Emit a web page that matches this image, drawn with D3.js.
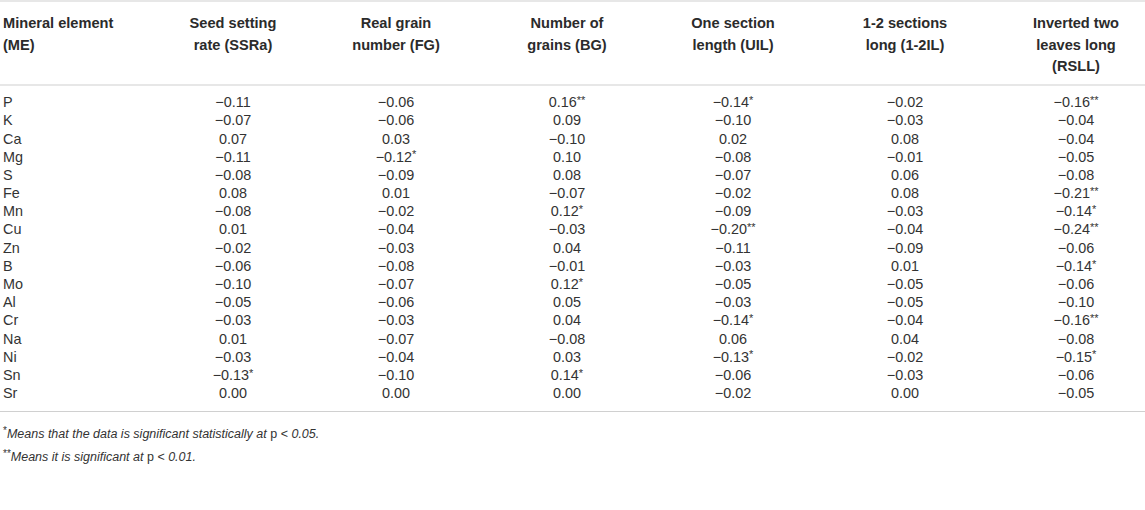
<!DOCTYPE html>
<html><head><meta charset="utf-8">
<script src="https://cdn.jsdelivr.net/npm/d3@7"></script>
<style>
html,body{margin:0;padding:0;background:#fff;}
svg{display:block;}
</style>
</head><body>
<script>
const elements = ["P","K","Ca","Mg","S","Fe","Mn","Cu","Zn","B","Mo","Al","Cr","Na","Ni","Sn","Sr"];
const columnHeaders = [
  ["Mineral element","(ME)"],
  ["Seed setting","rate (SSRa)"],
  ["Real grain","number (FG)"],
  ["Number of","grains (BG)"],
  ["One section","length (UIL)"],
  ["1-2 sections","long (1-2IL)"],
  ["Inverted two","leaves long","(RSLL)"]
];
const ssra  = [-0.11,-0.07,0.07,-0.11,-0.08,0.08,-0.08,0.01,-0.02,-0.06,-0.10,-0.05,-0.03,0.01,-0.03,-0.13,0.00];
const ssraSig = ["","","","","","","","","","","","","","","","*",""];
const fg    = [-0.06,-0.06,0.03,-0.12,-0.09,0.01,-0.02,-0.04,-0.03,-0.08,-0.07,-0.06,-0.03,-0.07,-0.04,-0.10,0.00];
const fgSig = ["","","","*","","","","","","","","","","","","",""];
const bg    = [0.16,0.09,-0.10,0.10,0.08,-0.07,0.12,-0.03,0.04,-0.01,0.12,0.05,0.04,-0.08,0.03,0.14,0.00];
const bgSig = ["**","","","","","","*","","","","*","","","","","*",""];
const uil   = [-0.14,-0.10,0.02,-0.08,-0.07,-0.02,-0.09,-0.20,-0.11,-0.03,-0.05,-0.03,-0.14,0.06,-0.13,-0.06,-0.02];
const uilSig = ["*","","","","","","","**","","","","","*","","*","",""];
const il12  = [-0.02,-0.03,0.08,-0.01,0.06,0.08,-0.03,-0.04,-0.09,0.01,-0.05,-0.05,-0.04,0.04,-0.02,-0.03,0.00];
const il12Sig = ["","","","","","","","","","","","","","","","",""];
const rsll  = [-0.16,-0.04,-0.04,-0.05,-0.08,-0.21,-0.14,-0.24,-0.06,-0.14,-0.06,-0.10,-0.16,-0.08,-0.15,-0.06,-0.05];
const rsllSig = ["**","","","","","**","*","**","","*","","","**","","*","",""];
const footnotes = [
  [{t:"*",sup:true},{t:"Means that the data is significant statistically at ",i:true},{t:"p < ",i:false},{t:"0.05.",i:true}],
  [{t:"**",sup:true},{t:"Means it is significant at ",i:true},{t:"p < ",i:false},{t:"0.01.",i:true}]
];

const series = [
  {v:ssra,s:ssraSig},{v:fg,s:fgSig},{v:bg,s:bgSig},
  {v:uil,s:uilSig},{v:il12,s:il12Sig},{v:rsll,s:rsllSig}
];

const W = 1145, H = 510;
const svg = d3.select("body").append("svg").attr("width",W).attr("height",H)
  .style("font-family","'Liberation Sans', Arial, sans-serif");

const textColor = "#333";
const lineColor = "#d0d0d0";

const colKeys = d3.range(columnHeaders.length);
const x = d3.scaleOrdinal().domain(colKeys).range([3, 233, 396, 567, 733, 905, 1076]);
const y = d3.scaleBand().domain(elements).range([93, 93 + 17*18.19]).paddingInner(0);
const hy = d3.scaleLinear().domain([0,1]).range([23, 44.5]);
const fmt = d3.format(".2f");

const rules = [1, 85, 411.5];
svg.selectAll("line.rule").data(rules).join("line").attr("class","rule")
  .attr("x1",0).attr("x2",W).attr("y1",d=>d).attr("y2",d=>d)
  .attr("stroke",lineColor).attr("stroke-width",1.2);

const hg = svg.selectAll("text.h").data(columnHeaders).join("text").attr("class","h")
  .attr("x",(d,i)=>x(i))
  .attr("text-anchor",(d,i)=>i===0?"start":"middle")
  .attr("font-weight","bold").attr("font-size",14.6).attr("fill","#2b2b2b");
hg.selectAll("tspan").data(d=>d).join("tspan")
  .attr("x",function(){return this.parentNode.getAttribute("x");})
  .attr("y",(d,j)=>hy(j)).attr("dy","0.35em").text(d=>d);

svg.selectAll("text.el").data(elements).join("text").attr("class","el")
  .attr("x",x(0)).attr("y",d=>y(d)+y.bandwidth()/2).attr("dy","0.35em")
  .attr("font-size",14.4).attr("fill",textColor).text(d=>d);

series.forEach((ser,ci)=>{
  const cells = svg.append("g").selectAll("text").data(elements.map((e,k)=>({e,v:ser.v[k],s:ser.s[k]})))
    .join("text").attr("x",x(ci+1)).attr("y",d=>y(d.e)+y.bandwidth()/2).attr("dy","0.35em")
    .attr("text-anchor","middle").attr("font-size",14.4).attr("fill",textColor);
  cells.append("tspan").text(d=>fmt(d.v));
  cells.filter(d=>d.s).append("tspan").attr("font-size",11).attr("dy","-0.3em").text(d=>d.s);
});

const fy = d3.scaleLinear().domain([0,1]).range([433, 456]);
footnotes.forEach((parts,i)=>{
  const base = fy(i) + 4.5;
  const t = svg.append("text").attr("x",3).attr("y",base).attr("font-size",12.5).attr("fill",textColor);
  t.selectAll("tspan").data(parts).join("tspan")
    .attr("font-style",d=>d.i?"italic":"normal")
    .attr("font-size",d=>d.sup?10:12.5)
    .attr("y",d=>d.sup?base-4:base)
    .text(d=>d.t);
});
</script>
</body></html>
